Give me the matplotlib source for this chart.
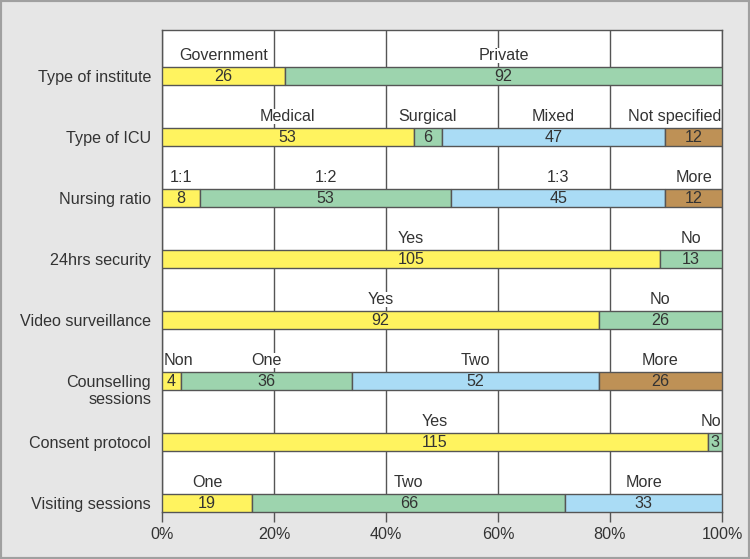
import matplotlib.pyplot as plt
import numpy as np
from matplotlib.transforms import blended_transform_factory

plt.rcParams['font.family'] = ['Liberation Sans', 'DejaVu Sans']

questions = ["Type of institute", "Type of ICU", "Nursing ratio", "24hrs security",
             "Video surveillance", "Counselling", "Consent protocol", "Visiting sessions"]
counts = [
    [26, 92],
    [53, 6, 47, 12],
    [8, 53, 45, 12],
    [105, 13],
    [92, 26],
    [4, 36, 52, 26],
    [115, 3],
    [19, 66, 33],
]
answers = [
    ["Government", "Private"],
    ["Medical", "Surgical", "Mixed", "Not specified"],
    ["1:1", "1:2", "1:3", "More"],
    ["Yes", "No"],
    ["Yes", "No"],
    ["Non", "One", "Two", "More"],
    ["Yes", "No"],
    ["One", "Two", "More"],
]
colors = ["#fff35f", "#9dd4ae", "#aadcf5", "#be9156"]
txt = "#333333"
edge = "#555555"
fs = 11.6

fig = plt.figure(figsize=(7.5, 5.59), dpi=100, facecolor="#e6e6e6")
fig.patches.append(plt.Rectangle((0, 0), 1, 1, transform=fig.transFigure,
                                 facecolor="none", edgecolor="#a0a0a0", linewidth=3))
ax = fig.add_axes([162/750, 47/559, 560/750, 482/559])

bar_h = 0.295
for i, (vals, names) in enumerate(zip(counts, answers)):
    vals = np.array(vals, dtype=float)
    pct = vals / vals.sum() * 100
    left = np.concatenate([[0], np.cumsum(pct)[:-1]])
    for j, (l, w, v, name) in enumerate(zip(left, pct, vals, names)):
        ax.barh(i, w, left=l, height=bar_h, color=colors[j], edgecolor=edge,
                linewidth=1, zorder=3)
        ax.text(l + w/2, i + 0.01, f"{int(v)}", ha="center", va="center",
                fontsize=fs, color=txt, zorder=4)
        cx = l + w/2
        ha = "center"
        if name == "Non":
            cx, ha = 0.3, "left"
        elif (i in (1, 6)) and j == len(vals) - 1:
            cx, ha = 99.8, "right"
        ax.text(cx, i - 0.26, name, ha=ha, va="baseline", fontsize=fs, color=txt,
                zorder=2, bbox=dict(facecolor="white", edgecolor="none", pad=0))

ax.set_xlim(0, 100)
ax.set_ylim(7 + bar_h/2, -0.755)
ax.set_xticks([0, 20, 40, 60, 80, 100])
ax.set_xticklabels(["0%", "20%", "40%", "60%", "80%", "100%"], fontsize=fs, color=txt)
ax.set_yticks(range(len(questions)))
ax.set_yticklabels(questions, fontsize=fs, color=txt)
ax.tick_params(axis="y", length=0, pad=8)
ax.tick_params(axis="x", length=7, width=1, color=edge, pad=4)
trans = blended_transform_factory(ax.transAxes, ax.transData)
ax.text(-10/560, 5.3, "sessions", transform=trans, ha="right", va="center",
        fontsize=fs, color=txt)
ax.grid(axis="x", color=edge, linewidth=1, zorder=0)
ax.set_axisbelow(True)
for s in ax.spines.values():
    s.set_color(edge)
    s.set_linewidth(1)

fig.savefig("out.png", dpi=100, facecolor=fig.get_facecolor())
